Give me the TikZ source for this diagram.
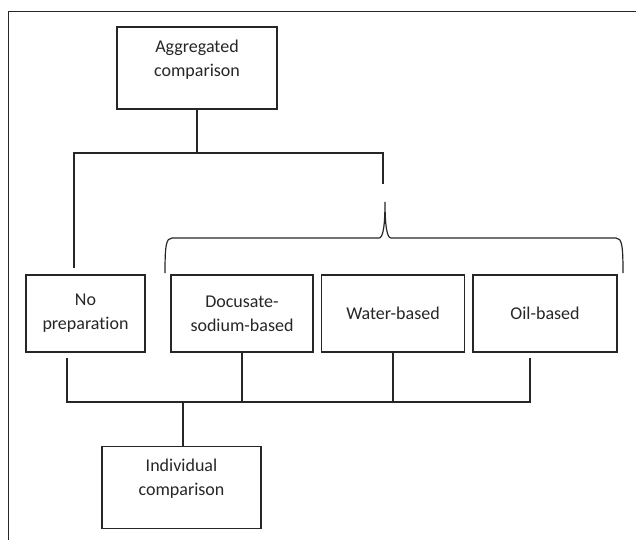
\documentclass[tikz,border=0pt]{standalone}
\usepackage{fontspec}
\setmainfont{Carlito}[Ligatures=NoCommon]
\usepackage{tikz}
\tikzset{box/.style={draw, line width=1.2pt, align=center, text=black!85, font=\fontsize{18}{24}\selectfont},
 big/.style={minimum width=160, minimum height=82, text depth=20},
 row/.style={minimum height=77},
 link/.style={draw, line width=1.2pt},
 frame/.style={draw, line width=0.9pt},
 }

\begin{document}
\begin{tikzpicture}[x=1pt, y=-1pt, draw=black!85]
        \useasboundingbox (0,0) rectangle (636,540);
        \draw[frame] (636,11) -- (8,11) -- (8,540);
        \node[box, big] (agg) at (197,68) {Aggregated\\comparison};
        \node[box, row, minimum width=119] (nop) at (85.5,313.5) {No\\preparation};
        \node[box, row, minimum width=142] (doc) at (242,313.5) {Docusate-\\sodium-based};
        \node[box, row, minimum width=143] (wat) at (393,313.5) {Water-based};
        \node[box, row, minimum width=144] (oil) at (545,313.5) {Oil-based};
        \node[box, big, minimum width=159] (ind) at (181.5,487.5) {Individual\\comparison};
        \coordinate (fork) at (197,153);
        \coordinate (forkL) at (74,153);
        \coordinate (forkR) at (383,153);
        \coordinate (nopin) at (74,268);
        \coordinate (gap) at (383,184);
        \coordinate (tip) at (385,202);
        \draw[link] (agg.south) -- (fork);
        \draw[link] (nopin) -- (forkL) -- (forkR) -- (gap);
        \draw[link] (165,273) .. controls (165,246) and (166,238) .. (172,238) -- (379,238)
            .. controls (383,238) and (385,226) .. (tip)
            .. controls (385,226) and (387,238) .. (391,238) -- (616,238)
            .. controls (622,238) and (623,246) .. (623,273);
        \coordinate (nopout) at (67,358);
        \coordinate (oilout) at (530,358);
        \coordinate (joinL) at (67,402);
        \coordinate (joinR) at (530,402);
        \coordinate (join) at (183,402);
        \draw[link] (nopout) -- (joinL) -- (joinR) -- (oilout);
        \draw[link] (doc.south) -- (doc.south |- joinL);
        \draw[link] (wat.south) -- (wat.south |- joinL);
        \draw[link] (join) -- (join |- ind.north);
    \end{tikzpicture}
\end{document}
